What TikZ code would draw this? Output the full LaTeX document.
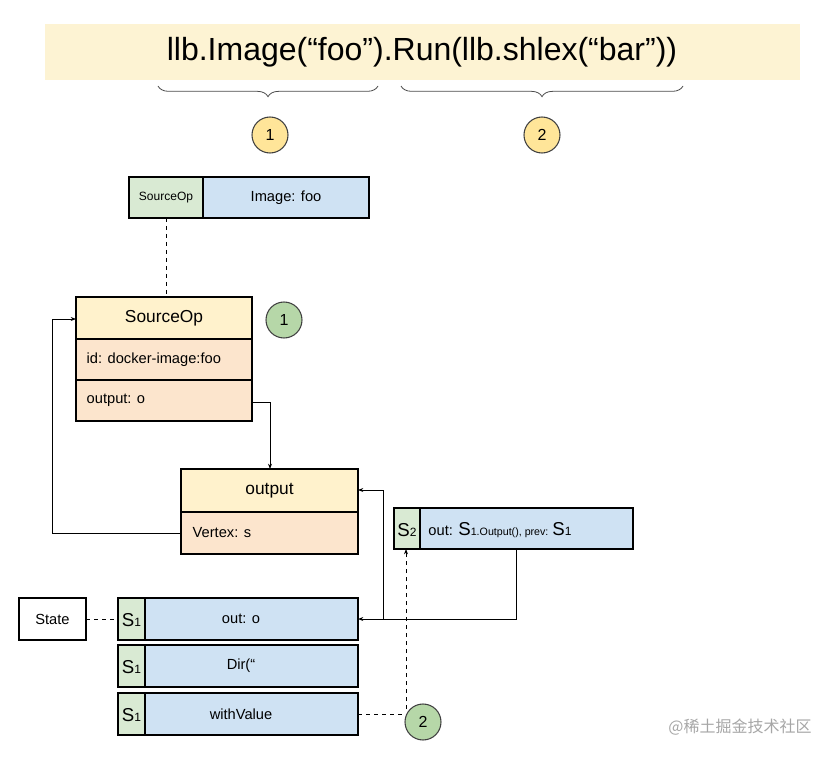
\documentclass[tikz,border=0pt]{standalone}
\usepackage{fontspec}
\setmainfont{Liberation Sans}
\newfontfamily\cjk{Noto Sans CJK SC}
\usetikzlibrary{decorations.pathreplacing,arrows.meta}
\definecolor{yel}{HTML}{FFF2CC}
\definecolor{ban}{HTML}{FDF3D3}
\definecolor{org}{HTML}{FCE5CD}
\definecolor{blu}{HTML}{CFE2F3}
\definecolor{grn}{HTML}{D9EAD3}
\definecolor{cyel}{HTML}{FFE599}
\definecolor{cgrn}{HTML}{B6D7A8}
\begin{document}
\begin{tikzpicture}[x=0.75pt,y=-0.75pt,
  box/.style={draw=black,line width=0.8pt},
  lab/.style={font=\fontsize{11}{13}\selectfont},
  circ/.style={circle,draw=black!75,line width=0.8pt,minimum size=27pt,inner sep=0pt,font=\fontsize{12}{14}\selectfont},
  arr/.style={-{Stealth[length=4pt,width=3pt]},line width=0.6pt},
  dsh/.style={dashed,line width=0.6pt}]
\useasboundingbox (0,0) rectangle (839,759);
% banner
\fill[ban] (45,24) rectangle (800,80);
\node[font=\fontsize{24}{28}\selectfont] (title) at (422,52) {llb.Image(“foo”).Run(llb.shlex(“bar”))};
\draw[decorate,decoration={brace,mirror,amplitude=8pt},line width=0.6pt,black!70] (158,86) -- (378,86);
\draw[decorate,decoration={brace,mirror,amplitude=8pt},line width=0.6pt,black!70] (401,86) -- (683,86);
\node[circ,fill=cyel] (y1) at (270,135) {1};
\node[circ,fill=cyel] (y2) at (542,135) {2};
% SourceOp small box
\draw[box,fill=grn] (129,177) rectangle (203,218);
\draw[box,fill=blu] (203,177) rectangle (369,218);
\node[font=\fontsize{9}{11}\selectfont] (sop) at (166,197.5) {SourceOp};
\node[lab] (img) at (286,197.5) {Image: foo};
% SourceOp class
\draw[box,fill=yel] (76,297) rectangle (252,339);
\draw[box,fill=org] (76,339) rectangle (252,380);
\draw[box,fill=org] (76,380) rectangle (252,421);
\draw[line width=1.4pt] (76,339) -- (252,339);
\node[font=\fontsize{13}{15}\selectfont] (so) at (164,318) {SourceOp};
\node[lab,anchor=west] (sid) at (82,359.5) {id: docker-image:foo};
\node[lab,anchor=west] (sout) at (82,400.5) {output: o};
\coordinate (soL) at (76,319);
\coordinate (soR) at (252,402);
\node[circ,fill=cgrn] (g1) at (284,320) {1};
\draw[dsh] (166,218) -- (166,297);
% output class
\draw[box,fill=yel] (181,469) rectangle (358,512);
\draw[box,fill=org] (181,512) rectangle (358,554);
\node[font=\fontsize{13}{15}\selectfont] (out) at (269.5,490.5) {output};
\node[lab,anchor=west] (vert) at (188,533) {Vertex: s};
\draw[arr] (soR) -- (270,402) -- (270,469);
\draw[arr] (181,533) -- (52,533) -- (52,319) -- (soL);
% S2
\draw[box,fill=grn] (394,508) rectangle (420,549);
\draw[box,fill=blu] (420,508) rectangle (633,549);
\node[lab] (s2) at (407,530) {{\fontsize{14}{16}\selectfont S}{\fontsize{9}{11}\selectfont 2}};
\node[lab] (s2t) at (500,530) {out: {\fontsize{14}{16}\selectfont S}{\fontsize{8}{10}\selectfont 1.Output(), prev: }{\fontsize{14}{16}\selectfont S}{\fontsize{9}{11}\selectfont 1}};
% State
\draw[box] (19,598) rectangle (86,640);
\node[lab] (state) at (52.5,619) {State};
% S1 rows
\foreach \y/\t/\n in {598/out: o/r1,645/Dir(“/”)/r2,693/withValue/r3}{
  \draw[box,fill=grn] (118,\y) rectangle (145,\y+42);
  \draw[box,fill=blu] (145,\y) rectangle (358,\y+42);
  \node[lab] (\n s) at (131.5,\y+22) {{\fontsize{14}{16}\selectfont S}{\fontsize{9}{11}\selectfont 1}};
  \node[lab] (\n) at (241,\y+21) {\t};
}
\draw[dsh] (86,619) -- (118,619);
\draw[arr] (516,549) -- (516,619) -- (358,619);
\draw[arr] (383,619) -- (383,490) -- (358,490);
\node[circ,fill=cgrn] (g2) at (423,722) {2};
\draw[dsh] (358,714) -- (g2.west|-0,714);
\draw[dsh,-{Stealth[length=4pt,width=3pt]}] (406,709) -- (406,549);
\node[text=black!35,font=\cjk\fontsize{12}{14}\selectfont] (wm) at (740,727) {@稀土掘金技术社区};
\end{tikzpicture}
\end{document}
